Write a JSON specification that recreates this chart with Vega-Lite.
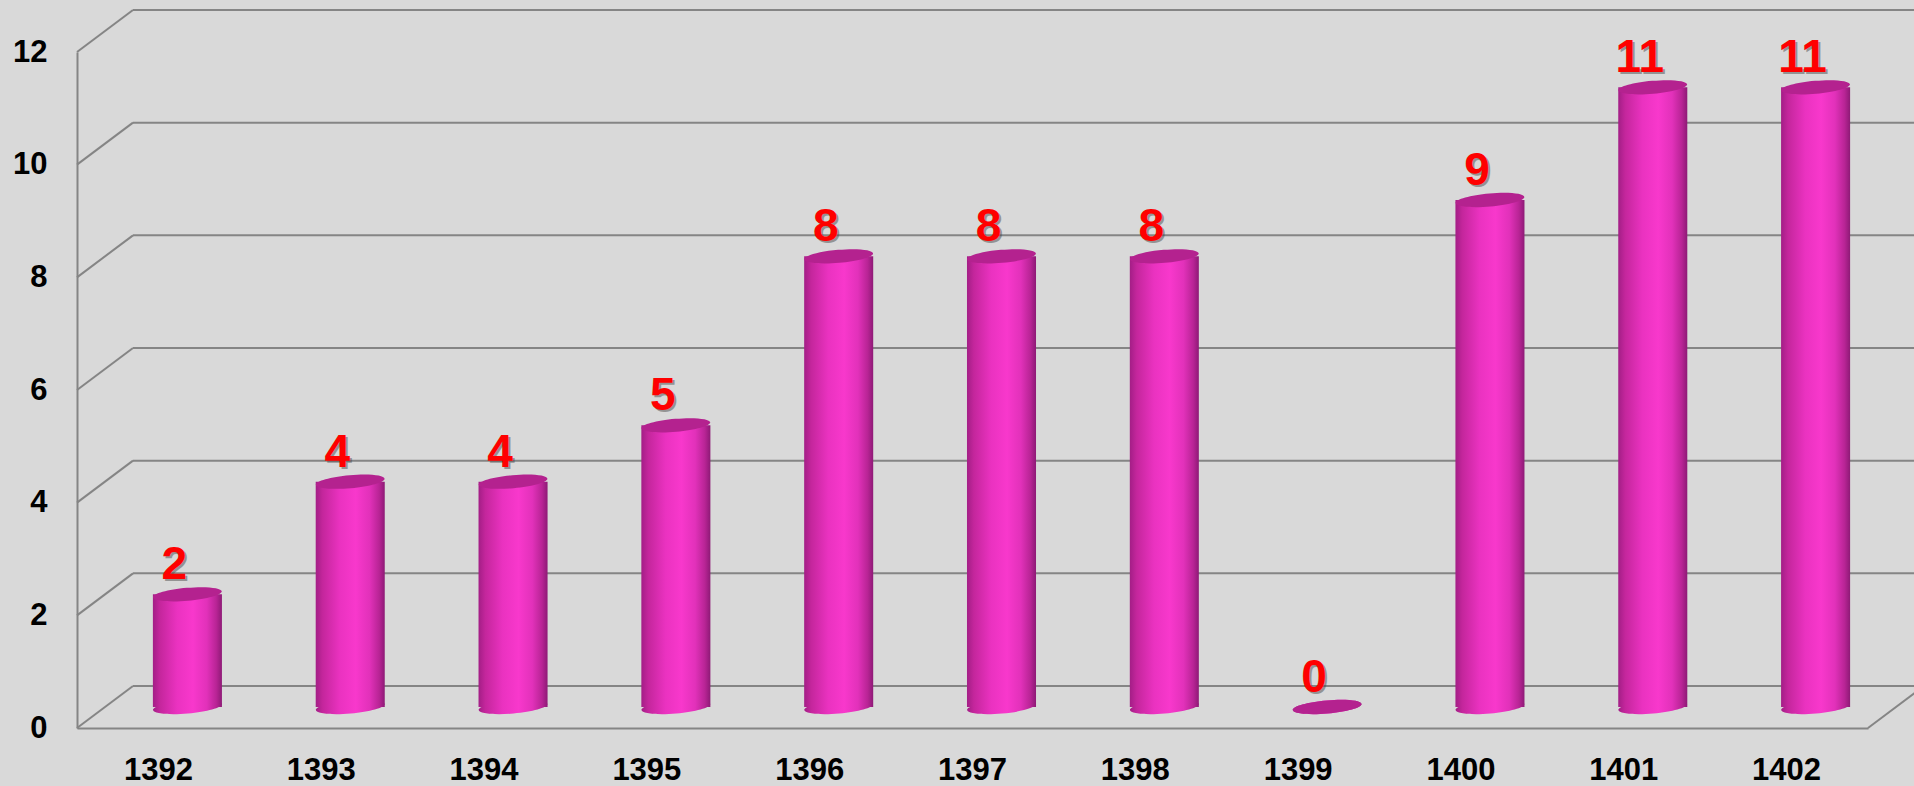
{
  "$schema": "https://vega.github.io/schema/vega-lite/v6.json",
  "autosize": {"type": "none"},
  "padding": {"left": 77, "top": 52, "right": 46, "bottom": 58},
  "width": 1791,
  "height": 676,
  "background": "#D9D9D9",
  "datasets": {
    "main": [
      {"year": "1392", "count": 2},
      {"year": "1393", "count": 4},
      {"year": "1394", "count": 4},
      {"year": "1395", "count": 5},
      {"year": "1396", "count": 8},
      {"year": "1397", "count": 8},
      {"year": "1398", "count": 8},
      {"year": "1399", "count": 0},
      {"year": "1400", "count": 9},
      {"year": "1401", "count": 11},
      {"year": "1402", "count": 11}
    ],
    "grid": [{"v": 0}, {"v": 2}, {"v": 4}, {"v": 6}, {"v": 8}, {"v": 10}, {"v": 12}]
  },
  "config": {
    "view": {"stroke": null},
    "scale": {"bandPaddingInner": 0, "bandPaddingOuter": 0},
    "axis": {
      "grid": false,
      "ticks": false,
      "domainColor": "#858585",
      "domainWidth": 2,
      "labelFont": "Liberation Sans",
      "labelFontWeight": "bold",
      "labelFontSize": 31,
      "labelColor": "#000000"
    },
    "axisX": {"labelAngle": 0, "labelPadding": 27},
    "axisY": {"labelPadding": 30}
  },
  "layer": [
    {
      "data": {"name": "grid"},
      "mark": {"type": "rule", "color": "#858585", "strokeWidth": 2, "yOffset": -42, "y2Offset": -42},
      "encoding": {
        "x": {"value": 56},
        "x2": {"value": {"expr": "width + 60"}},
        "y": {"field": "v", "type": "quantitative", "scale": {"domain": [0, 12]}, "axis": {"values": [0, 2, 4, 6, 8, 10, 12], "title": null}},
        "y2": {"field": "v"}
      }
    },
    {
      "data": {"name": "grid"},
      "mark": {"type": "rule", "color": "#858585", "strokeWidth": 2, "y2Offset": -42},
      "encoding": {
        "x": {"value": 0},
        "x2": {"value": 56},
        "y": {"field": "v", "type": "quantitative", "axis": {"values": [0, 2, 4, 6, 8, 10, 12], "title": null}},
        "y2": {"field": "v"}
      }
    },
    {
      "data": {"values": [{"v": 0}]},
      "mark": {"type": "rule", "color": "#858585", "strokeWidth": 2, "y2Offset": -42},
      "encoding": {
        "x": {"value": {"expr": "width"}},
        "x2": {"value": {"expr": "width + 56"}},
        "y": {"field": "v", "type": "quantitative", "axis": {"values": [0, 2, 4, 6, 8, 10, 12], "title": null}},
        "y2": {"field": "v"}
      }
    },
    {
      "data": {"name": "main"},
      "mark": {
        "type": "point",
        "filled": true,
        "opacity": 1,
        "strokeWidth": 0,
        "size": 4761,
        "xOffset": 29,
        "yOffset": -21,
        "shape": "M0.996,-0.087C1.005,0.017 0.567,0.141 0.017,0.189C-0.534,0.238 -0.987,0.192 -0.996,0.087C-1.005,-0.017 -0.567,-0.141 -0.017,-0.189C0.534,-0.238 0.987,-0.192 0.996,-0.087Z",
        "fill": {
          "gradient": "linear", "x1": 0, "y1": 0, "x2": 1, "y2": 0,
          "stops": [
            {"offset": 0, "color": "#A31E86"},
            {"offset": 0.1, "color": "#C4269C"},
            {"offset": 0.35, "color": "#EA32C0"},
            {"offset": 0.58, "color": "#F838CC"},
            {"offset": 0.78, "color": "#E231BA"},
            {"offset": 0.92, "color": "#B82495"},
            {"offset": 1, "color": "#8E1A76"}
          ]
        }
      },
      "encoding": {
        "x": {"field": "year", "type": "nominal", "axis": {"title": null}},
        "y": {"datum": 0, "type": "quantitative", "axis": {"values": [0, 2, 4, 6, 8, 10, 12], "title": null}}
      }
    },
    {
      "data": {"name": "main"},
      "mark": {
        "type": "bar",
        "width": {"band": 0.424},
        "xOffset": 29,
        "yOffset": -21,
        "y2Offset": -21,
        "fill": {
          "gradient": "linear", "x1": 0, "y1": 0, "x2": 1, "y2": 0,
          "stops": [
            {"offset": 0, "color": "#A31E86"},
            {"offset": 0.1, "color": "#C4269C"},
            {"offset": 0.35, "color": "#EA32C0"},
            {"offset": 0.58, "color": "#F838CC"},
            {"offset": 0.78, "color": "#E231BA"},
            {"offset": 0.92, "color": "#B82495"},
            {"offset": 1, "color": "#8E1A76"}
          ]
        }
      },
      "encoding": {
        "x": {"field": "year", "type": "nominal", "axis": {"title": null}},
        "y": {"field": "count", "type": "quantitative", "axis": {"values": [0, 2, 4, 6, 8, 10, 12], "title": null}}
      }
    },
    {
      "data": {"name": "main"},
      "mark": {
        "type": "point",
        "filled": true,
        "opacity": 1,
        "strokeWidth": 0,
        "size": 4761,
        "xOffset": 29,
        "yOffset": -21,
        "color": "#B4228F",
        "shape": "M0.996,-0.087C1.005,0.017 0.567,0.141 0.017,0.189C-0.534,0.238 -0.987,0.192 -0.996,0.087C-1.005,-0.017 -0.567,-0.141 -0.017,-0.189C0.534,-0.238 0.987,-0.192 0.996,-0.087Z"
      },
      "encoding": {
        "x": {"field": "year", "type": "nominal", "axis": {"title": null}},
        "y": {"field": "count", "type": "quantitative", "axis": {"values": [0, 2, 4, 6, 8, 10, 12], "title": null}}
      }
    },
    {
      "data": {"name": "main"},
      "mark": {"type": "text", "font": "Liberation Sans", "fontWeight": "bold", "fontSize": 46, "baseline": "alphabetic", "align": "center", "xOffset": 18, "yOffset": -34, "color": "#404040", "opacity": 0.45},
      "encoding": {
        "x": {"field": "year", "type": "nominal", "axis": {"title": null}},
        "y": {"field": "count", "type": "quantitative", "axis": {"values": [0, 2, 4, 6, 8, 10, 12], "title": null}},
        "text": {"field": "count", "type": "quantitative"}
      }
    },
    {
      "data": {"name": "main"},
      "mark": {"type": "text", "font": "Liberation Sans", "fontWeight": "bold", "fontSize": 46, "baseline": "alphabetic", "align": "center", "xOffset": 16, "yOffset": -36, "color": "#FF0000"},
      "encoding": {
        "x": {"field": "year", "type": "nominal", "axis": {"title": null}},
        "y": {"field": "count", "type": "quantitative", "axis": {"values": [0, 2, 4, 6, 8, 10, 12], "title": null}},
        "text": {"field": "count", "type": "quantitative"}
      }
    }
  ]
}
